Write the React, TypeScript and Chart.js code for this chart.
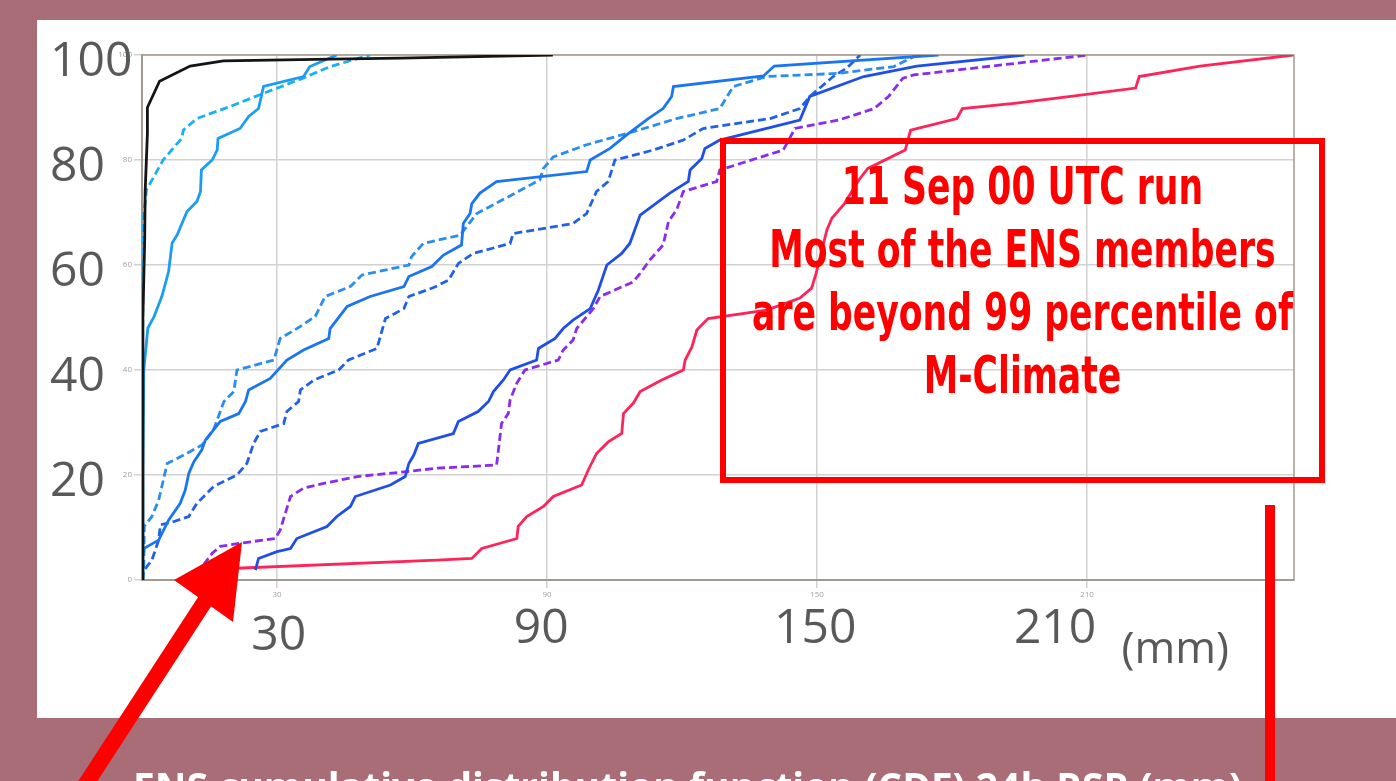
import React, { useEffect, useRef } from 'react';
import { Chart, registerables } from 'chart.js';

Chart.register(...registerables);

type Pt = [number, number];

// 24h precipitation (mm) vs cumulative probability (%)
const mClimateCdf: Pt[] = [[0, 0], [0.2, 50], [0.6, 65], [0.7, 74], [1.2, 85], [1.2, 90], [3.9, 95], [10.7, 97.9], [18.1, 98.9], [42, 99.2], [57.4, 99.4], [91.3, 100]];
const ensD9: Pt[] = [[0, 0], [0.2, 20], [0.4, 40], [1.3, 48], [2.6, 50], [4.4, 54], [5.9, 58.7], [6.7, 64.2], [7.8, 65.7], [10, 70.2], [12.2, 72.1], [13, 74], [13.2, 78.1], [15.6, 80], [16.7, 81.9], [16.9, 84.1], [21.8, 86], [23.7, 88.3], [25.9, 89.8], [27, 94], [35.9, 95.9], [37.3, 97.8], [43.3, 100]];
const ensD8: Pt[] = [[0, 0], [0.1, 40], [0.3, 68.6], [1, 74.3], [4.7, 80], [8.8, 84.1], [9.2, 85.7], [12.2, 87.9], [19.6, 90.2], [27, 92.7], [35.8, 95.6], [41.8, 97.8], [50.7, 100]];
const ensD7: Pt[] = [[0.3, 5.5], [0.4, 6], [3.7, 7.6], [5.9, 11.4], [8.5, 14.6], [9.6, 17.1], [10.4, 20.3], [11.5, 22.5], [13.3, 24.8], [14.1, 26.7], [15.9, 28.6], [17.4, 30.2], [21.5, 31.7], [23, 34], [23.7, 36.2], [28.5, 38.4], [32.2, 41.9], [35.9, 43.8], [41.5, 46], [41.8, 47.9], [45.6, 52.1], [50.7, 54], [58.2, 55.9], [59.3, 57.8], [64.4, 59.7], [67, 61.9], [71, 63.8], [71.4, 67.9], [72.9, 69.8], [73.3, 71.7], [75.1, 73.7], [78.8, 75.9], [98.8, 77.8], [99.6, 80], [104, 82.2], [107.7, 84.8], [112.5, 87.9], [115.8, 89.8], [117.7, 92.1], [118.1, 94], [138.1, 96], [140.5, 97.9], [177, 100]];
const ensD6: Pt[] = [[0.2, 0], [0.4, 1.9], [0.5, 10.2], [2.2, 12.1], [3.7, 15.2], [5.6, 22.2], [9.3, 23.8], [13.3, 25.7], [15.9, 28.6], [18.2, 34], [20.4, 35.9], [21.1, 40], [29.3, 41.9], [30.7, 46], [35.2, 48.3], [38.5, 50.2], [40.7, 54], [46.3, 55.9], [48.9, 58.1], [59.3, 60], [59.9, 61.6], [62.5, 64.1], [70.7, 65.7], [74.4, 69.8], [88.4, 76.2], [89.2, 78.4], [91.4, 80.6], [98.8, 82.9], [109.2, 85.4], [118.8, 87.9], [128.4, 89.8], [131.4, 94], [138.8, 95.9], [154.8, 96.5], [167.1, 97.8], [171.5, 99.7], [172, 100]];
const ensD5: Pt[] = [[0, 0], [0.2, 1.6], [2.2, 3.8], [3.7, 7.6], [4.1, 10.5], [7, 11.1], [10.4, 12.1], [12.2, 14.6], [15.9, 17.8], [21.1, 20], [23.3, 22.2], [24.8, 26], [26.3, 28.3], [31.5, 29.8], [32.2, 32.1], [34.8, 34], [35.2, 36.2], [38.2, 38.1], [43.7, 40], [45.9, 41.9], [52.2, 44.1], [54.1, 49.8], [58.2, 51.7], [59.3, 54], [64.8, 55.7], [68.1, 57.1], [70.3, 60.3], [73.6, 62.2], [81.8, 64.1], [82.5, 66], [95.8, 67.9], [98.8, 69.8], [101, 74], [103.6, 75.9], [105.1, 80], [113.6, 81.9], [120.3, 83.8], [124.7, 86], [139.6, 87.9], [146.2, 89.8], [148.4, 92.1], [153.6, 95.9], [156.6, 97.5], [159.6, 100]];
const ensD4: Pt[] = [[25.2, 1.9], [25.9, 4.1], [30, 5.4], [33, 6], [34.4, 7.9], [41.1, 10.2], [43.3, 12.1], [46.3, 14], [47.4, 15.9], [55.2, 18.1], [58.5, 19.7], [59.3, 22.2], [60.4, 23.8], [61.4, 26], [69.2, 27.9], [70.3, 30.2], [74.7, 32.1], [77, 34], [78.1, 35.9], [80.3, 38.1], [81.8, 40], [87.7, 41.9], [88.1, 44.1], [91.8, 46], [93.6, 47.9], [95.8, 49.5], [99.6, 51.7], [101.4, 55.2], [103.3, 60], [106.6, 62.2], [108.4, 64.1], [110.7, 69.5], [117.3, 73.7], [121.4, 75.9], [121.8, 78.1], [124.4, 80.3], [125.1, 82.2], [128.4, 83.8], [146.2, 87.6], [148.4, 92.1], [160.4, 95.9], [172.2, 97.9], [196.1, 100]];
const ensD3: Pt[] = [[13.7, 2.9], [15.6, 5.1], [17.4, 6.4], [21.8, 7], [29.6, 7.9], [30.7, 9.5], [33, 15.9], [35.9, 17.5], [40.4, 18.4], [47.8, 19.7], [58.2, 20.6], [65.6, 21.3], [78.8, 21.9], [79.9, 29.8], [81.4, 31.7], [81.8, 34.3], [83.3, 37.5], [85.1, 40], [92.5, 41.9], [93.6, 43.8], [95.8, 45.7], [96.6, 47.9], [100.3, 51.7], [101.8, 54], [109.2, 56.8], [110.7, 58.4], [112.9, 61], [115.8, 63.8], [117, 68.3], [118.8, 70.5], [120.3, 74], [127.7, 75.9], [128.4, 78.1], [142.5, 81.9], [145.1, 86], [154.8, 87.6], [162.7, 89.8], [165.9, 92.1], [169.1, 95.6], [171.5, 96.2], [210.4, 100]];
const ensD2: Pt[] = [[14, 2], [65.6, 3.8], [73.3, 4.1], [75.5, 6], [83.3, 7.9], [83.6, 10.2], [85.5, 12.1], [89.2, 14], [91.4, 15.9], [97.7, 18.1], [99.2, 21], [101, 24.1], [103.6, 26.3], [106.6, 27.9], [107, 31.7], [109.2, 33.7], [110.7, 35.9], [115.5, 38.1], [120.3, 40], [120.7, 41.9], [122.2, 44.4], [123.3, 47.6], [125.8, 49.8], [138.8, 51.4], [146.2, 53.7], [148.8, 55.6], [149.8, 58.4], [152.2, 66.7], [153.3, 68.9], [156.1, 71.7], [159.3, 76.2], [161.3, 78.4], [169.6, 81.9], [170.8, 85.7], [181.1, 87.9], [182.3, 89.8], [193.8, 90.8], [206.4, 92.1], [220.8, 93.7], [221.6, 95.9], [235.1, 97.9], [255.8, 100]];

const seriesLabels = ['M-Climate', 'D+9', 'D+8', 'D+7', 'D+6', 'D+5', 'D+4', 'D+3', 'D+2'];
const seriesPoints = [mClimateCdf, ensD9, ensD8, ensD7, ensD6, ensD5, ensD4, ensD3, ensD2];
const seriesColors = ['#141414', '#1a9df2', '#1ab0f5', '#1a76f0', '#2a8df0', '#1f62e6', '#1f4ee8', '#8a2cf0', '#ff2358'];
const seriesDashed = [false, false, true, false, true, true, false, true, false];

const xTickValues = [30, 90, 150, 210];
const yTickValues = [0, 20, 40, 60, 80, 100];
const bigYLabels = ['100', '80', '60', '40', '20'];
const bigXLabels = ['30', '90', '150', '210'];
const unitLabel = '(mm)';

const annotationLines = ['11 Sep 00 UTC run', 'Most of the ENS members', 'are beyond 99 percentile of', 'M-Climate'];
const caption = 'ENS cumulative distribution function (CDF) 24h RSR (mm)';

const framePlugin = {
  id: 'frame',
  beforeDatasetsDraw(chart: any) {
    const { ctx, chartArea } = chart;
    ctx.save();
    ctx.strokeStyle = '#a39a8e';
    ctx.lineWidth = 1.5;
    ctx.strokeRect(chartArea.left, chartArea.top, chartArea.right - chartArea.left, chartArea.bottom - chartArea.top);
    ctx.restore();
  },
};

const bigLabelPlugin = {
  id: 'bigLabels',
  afterDraw(chart: any) {
    const { ctx, chartArea, scales } = chart;
    const xs = scales.x;
    const ys = scales.y;
    ctx.save();
    ctx.fillStyle = '#595959';
    ctx.font = '48px "Open Sans", sans-serif';
    ctx.textAlign = 'left';
    ctx.textBaseline = 'middle';
    bigYLabels.forEach((t) => {
      ctx.fillText(t, 50, ys.getPixelForValue(Number(t)) + 7);
    });
    ctx.textAlign = 'center';
    const anchors = [30.4, 88.7, 149.6, 202.9];
    bigXLabels.forEach((t, i) => {
      ctx.fillText(t, xs.getPixelForValue(anchors[i]), chartArea.bottom + (i === 0 ? 56 : 49));
    });
    ctx.font = '44px "Open Sans", sans-serif';
    ctx.fillText(unitLabel, xs.getPixelForValue(229.6), chartArea.bottom + 70);
    ctx.restore();
  },
};

export default function App() {
  const canvasRef = useRef<HTMLCanvasElement>(null);

  useEffect(() => {
    const canvas = canvasRef.current;
    if (!canvas) return;
    const chart = new Chart(canvas, {
      type: 'line',
      data: {
        datasets: seriesPoints.map((pts, i) => ({
          label: seriesLabels[i],
          data: pts.map(([x, y]) => ({ x, y })),
          borderColor: seriesColors[i],
          borderWidth: 2.8,
          borderDash: seriesDashed[i] ? [8, 4] : [],
          pointRadius: 0,
          fill: false,
          tension: 0,
        })),
      },
      options: {
        responsive: false,
        animation: false,
        devicePixelRatio: 1,
        layout: { padding: { left: 100, top: 55, right: 102, bottom: 0 } },
        plugins: { legend: { display: false }, tooltip: { enabled: false } },
        scales: {
          x: {
            type: 'linear',
            min: 0,
            max: 256,
            afterBuildTicks: (s: any) => {
              s.ticks = xTickValues.map((v) => ({ value: v }));
            },
            afterFit: (s: any) => {
              s.height = 201;
            },
            grid: { color: '#d2d2d2', lineWidth: 1.5, tickLength: 8, drawTicks: true },
            border: { color: '#a39a8e', width: 2 },
            ticks: { color: '#a0a0a0', font: { size: 8, family: 'Open Sans' }, padding: 2, maxRotation: 0 },
          },
          y: {
            type: 'linear',
            min: 0,
            max: 100,
            afterBuildTicks: (s: any) => {
              s.ticks = yTickValues.map((v) => ({ value: v }));
            },
            afterFit: (s: any) => {
              s.width = 42;
            },
            grid: { color: '#d2d2d2', lineWidth: 1.5, tickLength: 8, drawTicks: true },
            border: { color: '#a39a8e', width: 2 },
            ticks: { color: '#a0a0a0', font: { size: 8, family: 'Open Sans' }, padding: 2 },
          },
        },
      },
      plugins: [framePlugin, bigLabelPlugin],
    } as any);
    return () => chart.destroy();
  }, []);

  return (
    <div style={{ position: 'fixed', left: 0, top: 0, width: 1396, height: 781, background: '#a86d76', overflow: 'hidden' }}>
      <div style={{ position: 'absolute', left: 37, top: 20, width: 1359, height: 698, background: '#ffffff' }} />
      <canvas ref={canvasRef} width={1396} height={781} style={{ position: 'absolute', left: 0, top: 0, width: 1396, height: 781 }} />
      <div
        style={{
          position: 'absolute',
          left: 720,
          top: 138,
          width: 605,
          height: 345,
          boxSizing: 'border-box',
          border: '6px solid #ff0000',
        }}
      />
      <div
        style={{
          position: 'absolute',
          left: 522,
          top: 155,
          width: 1001,
          textAlign: 'center',
          color: '#ff0000',
          fontFamily: '"DejaVu Sans Condensed", "DejaVu Sans", sans-serif',
          fontWeight: 700,
          fontSize: 52,
          lineHeight: '63px',
          whiteSpace: 'nowrap',
          transform: 'scaleX(0.74)',
          transformOrigin: '50% 50%',
        }}
      >
        {annotationLines.map((l) => (
          <div key={l}>{l}</div>
        ))}
      </div>
      <svg width={1396} height={781} style={{ position: 'absolute', left: 0, top: 0 }}>
        <line x1={82} y1={790} x2={207} y2={598} stroke="#ff0000" strokeWidth={16} />
        <polygon points="174,580 242,542 233,622" fill="#ff0000" />
        <rect x={1265} y={505} width={10} height={290} fill="#ff0000" />
      </svg>
      <div
        style={{
          position: 'absolute',
          left: 133,
          top: 766,
          color: '#ffffff',
          fontFamily: '"Open Sans", sans-serif',
          fontWeight: 700,
          fontSize: 39,
          lineHeight: '39px',
          whiteSpace: 'nowrap',
        }}
      >
        {caption}
      </div>
    </div>
  );
}
